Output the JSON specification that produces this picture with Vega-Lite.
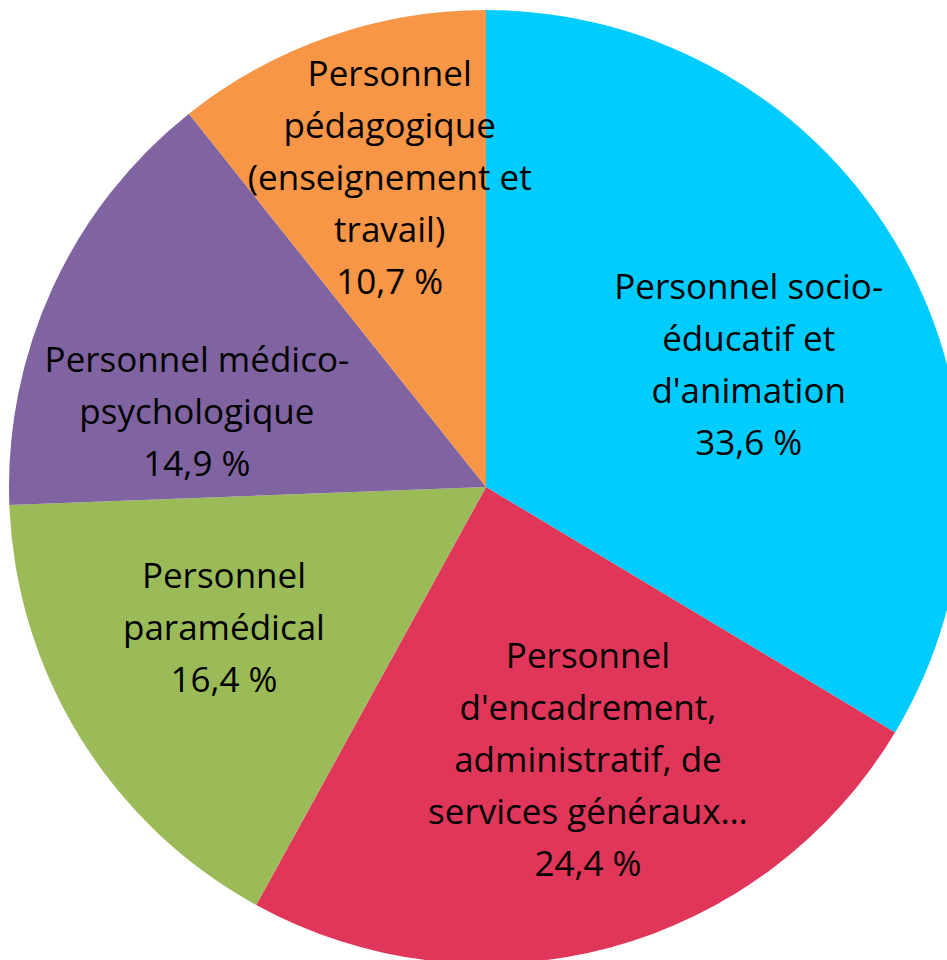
{
  "$schema": "https://vega.github.io/schema/vega-lite/v6.json",
  "width": 954,
  "height": 954,
  "autosize": {"type": "none"},
  "padding": {"left": 9, "top": 10, "right": 0, "bottom": 0},
  "background": "white",
  "config": {"view": {"stroke": null}},
  "data": {
    "values": [
      {"rank": 1, "category": "socio", "value": 33.6, "label": "Personnel socio-\néducatif et\nd'animation\n33,6 %"},
      {"rank": 2, "category": "encadrement", "value": 24.4, "label": "Personnel\nd'encadrement,\nadministratif, de\nservices généraux…\n24,4 %"},
      {"rank": 3, "category": "paramedical", "value": 16.4, "label": "Personnel\nparamédical\n16,4 %"},
      {"rank": 4, "category": "medico", "value": 14.9, "label": "Personnel médico-\npsychologique\n14,9 %"},
      {"rank": 5, "category": "pedagogique", "value": 10.7, "label": "Personnel\npédagogique\n(enseignement et\ntravail)\n10,7 %"}
    ]
  },
  "encoding": {
    "theta": {"field": "value", "type": "quantitative", "stack": true},
    "order": {"field": "rank", "type": "quantitative"}
  },
  "layer": [
    {
      "mark": {"type": "arc"},
      "encoding": {
        "color": {
          "field": "category",
          "type": "nominal",
          "legend": null,
          "scale": {
            "domain": ["socio", "encadrement", "paramedical", "medico", "pedagogique"],
            "range": ["#00CCFF", "#E0365A", "#9BBB59", "#8064A2", "#F79646"]
          }
        }
      }
    },
    {
      "mark": {"type": "text", "radius": 295, "dx": 6, "dy": -54, "font": "Open Sans", "fontSize": 35, "lineHeight": 52, "lineBreak": "\n", "align": "center", "baseline": "middle", "color": "black"},
      "encoding": {"text": {"condition": {"test": "datum.category === 'socio'", "field": "label"}, "value": ""}}
    },
    {
      "mark": {"type": "text", "radius": 295, "dx": 25, "dy": -115, "font": "Open Sans", "fontSize": 35, "lineHeight": 52, "lineBreak": "\n", "align": "center", "baseline": "middle", "color": "black"},
      "encoding": {"text": {"condition": {"test": "datum.category === 'encadrement'", "field": "label"}, "value": ""}}
    },
    {
      "mark": {"type": "text", "radius": 295, "dx": -11, "dy": -65, "font": "Open Sans", "fontSize": 35, "lineHeight": 52, "lineBreak": "\n", "align": "center", "baseline": "middle", "color": "black"},
      "encoding": {"text": {"condition": {"test": "datum.category === 'paramedical'", "field": "label"}, "value": ""}}
    },
    {
      "mark": {"type": "text", "radius": 295, "dx": -21, "dy": -3, "font": "Open Sans", "fontSize": 35, "lineHeight": 52, "lineBreak": "\n", "align": "center", "baseline": "middle", "color": "black"},
      "encoding": {"text": {"condition": {"test": "datum.category === 'medico'", "field": "label"}, "value": ""}}
    },
    {
      "mark": {"type": "text", "radius": 295, "dx": 1, "dy": -134, "font": "Open Sans", "fontSize": 35, "lineHeight": 52, "lineBreak": "\n", "align": "center", "baseline": "middle", "color": "black"},
      "encoding": {"text": {"condition": {"test": "datum.category === 'pedagogique'", "field": "label"}, "value": ""}}
    }
  ]
}
